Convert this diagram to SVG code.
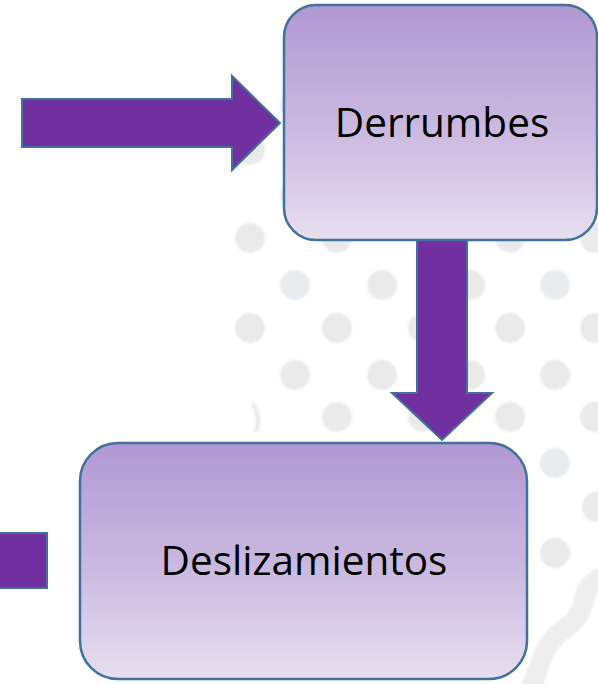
<svg xmlns="http://www.w3.org/2000/svg" width="598" height="684" viewBox="0 0 598 684">
  <style>
    .dot { fill: #EAEAEA; }
    .dotb { fill: #E8ECEF; }
    .arrow { fill: #7030A0; stroke: #41719C; stroke-width: 2; stroke-linejoin: miter; }
    .box { fill: url(#boxGrad); stroke: #41719C; stroke-width: 2.5; }
    .label { font-family: "Open Sans", "Noto Sans", "Liberation Sans", sans-serif; font-size: 40.5px; fill: #000000; text-anchor: middle; }
  </style>
  <defs>
    <linearGradient id="boxGrad" x1="0" y1="0" x2="0" y2="1">
      <stop offset="0" stop-color="#B099D2"/>
      <stop offset="0.5" stop-color="#C9B7DF"/>
      <stop offset="1" stop-color="#E6DFEF"/>
    </linearGradient>
    <filter id="soft" x="-20%" y="-20%" width="140%" height="140%">
      <feGaussianBlur stdDeviation="1.2"/>
    </filter>
  </defs>
  <rect width="598" height="684" fill="#FFFFFF"/>

  <g id="background" filter="url(#soft)">
    <circle class="dot" cx="250" cy="150" r="15"/>
    <circle class="dot" cx="295" cy="105" r="15"/>
    <circle class="dot" cx="295" cy="195" r="15"/>
    <circle class="dot" cx="250" cy="238" r="15"/>
    <circle class="dot" cx="337" cy="238" r="15"/>
    <circle class="dot" cx="510" cy="238" r="15"/>
    <circle class="dot" cx="595" cy="238" r="15"/>
    <circle class="dotb" cx="295" cy="285" r="15"/>
    <circle class="dot" cx="382" cy="285" r="15"/>
    <circle class="dot" cx="470" cy="285" r="15"/>
    <circle class="dotb" cx="555" cy="285" r="15"/>
    <circle class="dot" cx="250" cy="328" r="15"/>
    <circle class="dot" cx="337" cy="328" r="15"/>
    <circle class="dot" cx="423" cy="328" r="15"/>
    <circle class="dot" cx="510" cy="328" r="15"/>
    <circle class="dot" cx="595" cy="328" r="15"/>
    <circle class="dot" cx="295" cy="375" r="15"/>
    <circle class="dot" cx="382" cy="375" r="15"/>
    <circle class="dot" cx="470" cy="375" r="15"/>
    <circle class="dot" cx="555" cy="375" r="15"/>
    <path class="dot" d="M255,403 Q264,417 258,432 L254,432 Q258,417 251,403 Z"/>
    <circle class="dot" cx="337" cy="417" r="15"/>
    <circle class="dot" cx="423" cy="417" r="15"/>
    <circle class="dot" cx="510" cy="417" r="15"/>
    <circle class="dot" cx="595" cy="417" r="15"/>
    <circle class="dotb" cx="555" cy="463" r="15"/>
    <circle class="dot" cx="597" cy="507" r="15"/>
    <circle class="dot" cx="555" cy="553" r="15"/>
    <path d="M600,578 Q586,585 584,600 Q580,620 560,632 Q545,645 540,665 L532,684" fill="none" stroke="#EEEEEE" stroke-width="20" stroke-linecap="round"/>
  </g>

  <g id="connectors">
    <path id="arrow-right" class="arrow" d="M22,99 H232 V76 L280,123 L232,170 V147 H22 Z"/>
    <path id="arrow-down" class="arrow" d="M417,240 H467 V393 H492 L442,440 L392,393 H417 Z"/>
    <path id="arrow-left-stub" class="arrow" d="M-2,533 H47 V588 H-2 Z"/>
  </g>

  <g id="node-derrumbes">
    <rect class="box" x="284" y="5" width="313" height="235" rx="32" ry="32"/>
    <text class="label" x="442" y="137">Derrumbes</text>
  </g>

  <g id="node-deslizamientos">
    <rect class="box" x="80" y="443" width="447" height="236" rx="38" ry="38"/>
    <text class="label" x="304" y="575">Deslizamientos</text>
  </g>
</svg>
